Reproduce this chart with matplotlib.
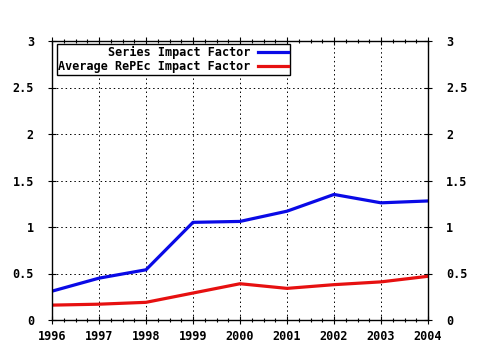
import numpy as np
import matplotlib
matplotlib.use("Agg")
import matplotlib.pyplot as plt
from matplotlib.ticker import MultipleLocator, FuncFormatter

# Data
years = [1996, 1997, 1998, 1999, 2000, 2001, 2002, 2003, 2004]
series_if = [0.31, 0.45, 0.54, 1.05, 1.06, 1.17, 1.35, 1.26, 1.28]
repec_if = [0.16, 0.17, 0.19, 0.29, 0.39, 0.34, 0.38, 0.41, 0.47]
labels = ["Series Impact Factor", "Average RePEc Impact Factor"]
y_ticks = [0, 0.5, 1, 1.5, 2, 2.5, 3]

plt.rcParams['font.family'] = ['DejaVu Sans Mono']
plt.rcParams['font.weight'] = 'bold'
plt.rcParams['font.size'] = 8.5

fig = plt.figure(figsize=(4.8, 3.5), dpi=100)
fig.patch.set_facecolor('white')
ax = fig.add_axes([52/480, 30/350, 376/480, 279/350])

ax.plot(years, series_if, color='#0a0ae6', linewidth=2.3, label=labels[0])
ax.plot(years, repec_if, color='#e61010', linewidth=2.3, label=labels[1])

ax.set_xlim(1996, 2004)
ax.set_ylim(0, 3)
ax.set_xticks(years)
ax.set_yticks(y_ticks)
ax.xaxis.set_minor_locator(MultipleLocator(0.25))
ax.yaxis.set_minor_locator(MultipleLocator(0.1))

fmt = FuncFormatter(lambda v, p: ('%g' % v))
ax.yaxis.set_major_formatter(fmt)
ax.xaxis.set_major_formatter(FuncFormatter(lambda v, p: '%d' % v))

ax.grid(True, which='major', linestyle=(0, (1.5, 3)), color='black', linewidth=0.7)
ax.tick_params(which='both', direction='inout', top=True, right=True,
               labelright=True, color='black', width=0.8)
ax.tick_params(which='major', length=6, pad=4)
ax.tick_params(which='minor', length=3)
ax.tick_params(axis='y', which='minor', length=0)
ax.tick_params(axis='y', pad=10)
for sp in ax.spines.values():
    sp.set_linewidth(1.0)

leg = ax.legend(loc='upper left', bbox_to_anchor=(0.012, 0.99), markerfirst=False,
                fancybox=False, frameon=True, edgecolor='black', framealpha=1,
                borderpad=0.15, labelspacing=0.15, handlelength=2.6,
                handletextpad=0.6, borderaxespad=0)
leg.get_frame().set_linewidth(1.0)
for t in leg.get_texts():
    t.set_ha('right')
leg._legend_box.align = 'right'

fig.savefig('out.png', dpi=100)
